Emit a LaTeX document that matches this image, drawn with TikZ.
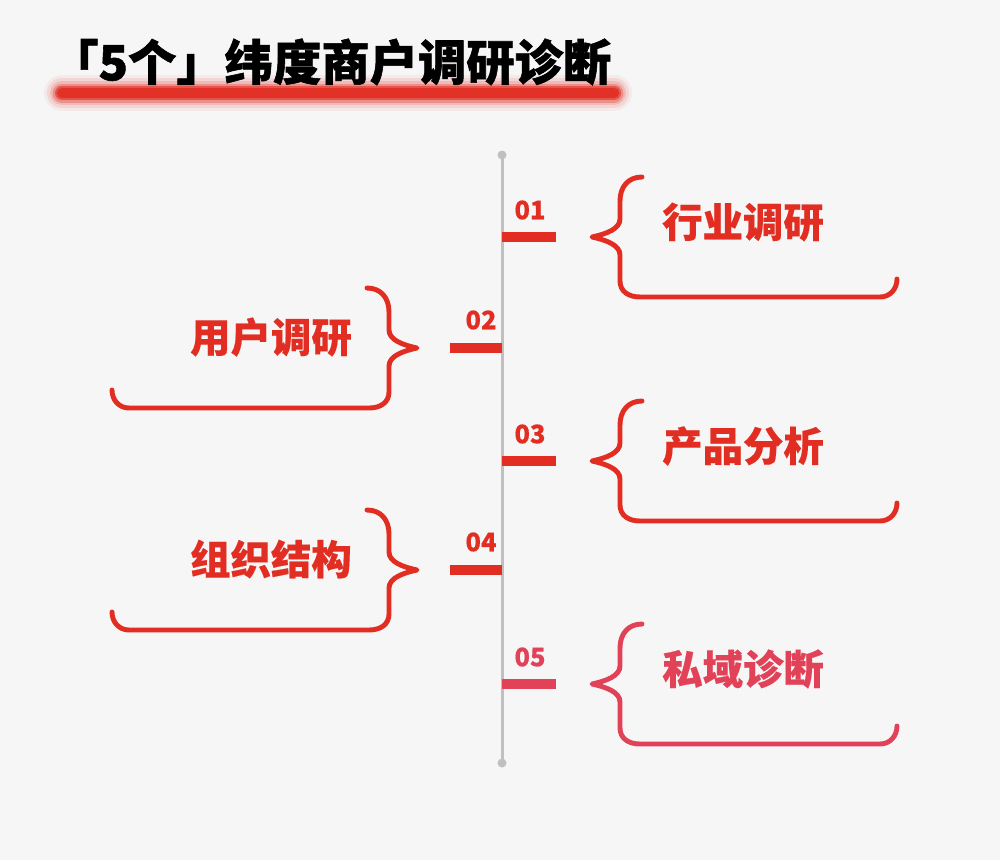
\documentclass[tikz,border=0pt]{standalone}
\usepackage{fontspec}
\newfontfamily\cjk{Noto Sans CJK SC}[BoldFeatures={FakeBold=0.4}]
\newfontfamily\cjkheavy{Noto Sans CJK SC}[BoldFeatures={FakeBold=1.2}]
\definecolor{bgc}{RGB}{246,246,246}
\definecolor{tred}{RGB}{226,46,34}
\definecolor{tpink}{RGB}{226,66,88}
\definecolor{tgray}{RGB}{192,192,192}
\tikzset{curly/.pic={
	\draw [line width=2.8pt ,line cap=round ,line join=round]  (50,-60) .. controls (36,-60) and (28,-50) .. (28,-36) -- (28,-18) .. controls (28,-8) and (14,-3) .. (0,0) .. controls (14,3) and (28,8) .. (28,18) -- (28,44) .. controls (28,54) and (36,60) .. (48,60) -- (288,60) .. controls (298,60) and (305,52) .. (305,42);
}}

\begin{document}
\begin{tikzpicture}[x=0.02cm,y=-0.02cm]
	\tikzstyle{every node}=[inner sep=0pt]
	\tikzstyle{tick}=[line width=5.7pt]
	\tikzstyle{item}=[font=\cjk\bfseries\fontsize{23}{23}\selectfont]
	\tikzstyle{num}=[font=\cjk\bfseries\fontsize{14.5}{14.5}\selectfont]
	\tikzstyle{title}=[font=\cjkheavy\bfseries\fontsize{27.5}{27.5}\selectfont]
	
	\fill [bgc] (0,0) rectangle (1000,860);
	
	%%title with glow bar
	\foreach \w/\o in {36/0.06,30/0.1,24/0.16,19/0.3,14/0.6,10/0.9}
		\draw [tred ,line width=\w*0.569pt ,line cap=round ,opacity=\o]  (62,93) -- (614,93);
	\node [title ,anchor=west] (title) at (50,62) {「5个」纬度商户调研诊断};
	
	%%spine
	\coordinate (top) at (502,155);
	\coordinate (bot) at (502,763);
	\draw [tgray ,line width=1.7pt]  (top) -- (bot);
	\fill [tgray] (top) circle (4.5);
	\fill [tgray] (bot) circle (4.5);
	
	%%right items
	\foreach \n/\y/\t/\c in {01/237/行业调研/tred,03/461/产品分析/tred,05/684/私域诊断/tpink}{
		\coordinate (s\n) at (502,\y);
		\draw [tick ,\c]  (s\n) -- ++(54,0) coordinate (e\n);
		\node [num ,\c] (n\n) at (530,\y-27) {\n};
		\pic [\c] at (592,\y) {curly};
		\node [item ,\c] (t\n) at (743,\y-15) {\t};
	}
	
	%%left items
	\foreach \n/\y/\t/\c in {02/348/用户调研/tred,04/570/组织结构/tred}{
		\coordinate (s\n) at (502,\y);
		\draw [tick ,\c]  (s\n) -- ++(-52,0) coordinate (e\n);
		\node [num ,\c] (n\n) at (481,\y-28) {\n};
		\pic [\c ,xscale=-1] at (417,\y) {curly};
		\node [item ,\c] (t\n) at (271,\y-11) {\t};
	}

\end{tikzpicture}
\end{document}
